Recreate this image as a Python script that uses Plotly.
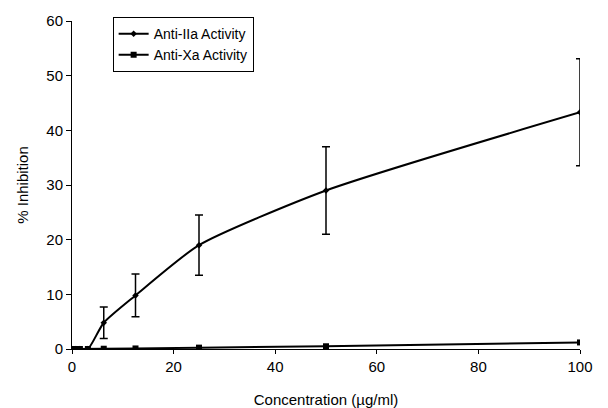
import plotly.graph_objects as go

conc = [0, 0.78, 1.56, 3.125, 6.25, 12.5, 25, 50, 100]
anti_iia = [0, 0, 0, 0, 4.8, 9.8, 19.0, 29.0, 43.3]
anti_iia_err = [0, 0, 0, 0, 2.9, 3.9, 5.5, 8.0, 9.8]
anti_xa = [0, 0, 0, 0, 0.05, 0.1, 0.25, 0.5, 1.2]

fig = go.Figure()
fig.add_trace(go.Scatter(
    x=conc, y=anti_iia, name="Anti-IIa Activity", mode="lines+markers",
    line=dict(color="black", width=2, shape="spline", smoothing=0.6),
    marker=dict(symbol="diamond", size=5, color="black"),
    error_y=dict(type="data", array=anti_iia_err, visible=True, color="black", thickness=1.5, width=4),
))
fig.add_trace(go.Scatter(
    x=conc, y=anti_xa, name="Anti-Xa Activity", mode="lines+markers",
    line=dict(color="black", width=2),
    marker=dict(symbol="square", size=6, color="black"),
))

fig.update_layout(
    width=608, height=408,
    margin=dict(l=72, r=28, t=21, b=59),
    paper_bgcolor="white", plot_bgcolor="white",
    font=dict(family="Liberation Sans, Arial", size=15, color="black"),
    showlegend=True,
    legend=dict(x=0.08, y=1.012, xanchor="left", yanchor="top",
                bordercolor="black", borderwidth=1, bgcolor="white",
                font=dict(size=14), tracegroupgap=0, itemwidth=30),
)
fig.update_xaxes(range=[0, 100], tickvals=[0, 20, 40, 60, 80, 100],
                 showline=True, linecolor="black", linewidth=1,
                 ticks="outside", ticklen=4, tickcolor="black",
                 showgrid=False, zeroline=False, automargin=False,
                 title=dict(text="Concentration (µg/ml)", font=dict(size=15), standoff=20))
fig.update_yaxes(range=[0, 60], tickvals=[0, 10, 20, 30, 40, 50, 60],
                 showline=True, linecolor="black", linewidth=1,
                 ticks="outside", ticklen=5, tickcolor="black",
                 showgrid=False, zeroline=False, automargin=False,
                 title=dict(text="% Inhibition", font=dict(size=15), standoff=14))

fig.write_html("out.html")
